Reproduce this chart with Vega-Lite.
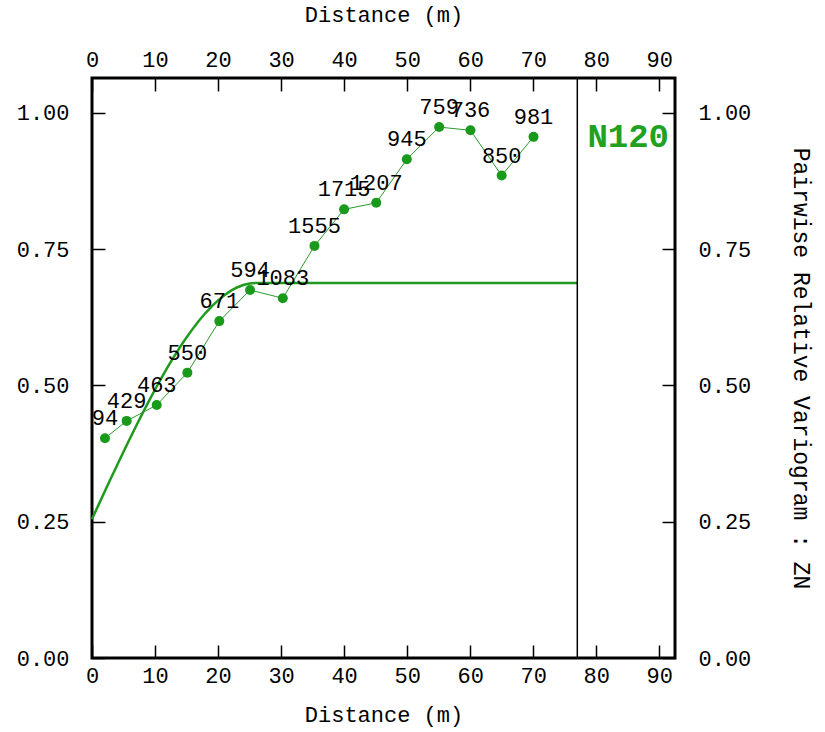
{
  "$schema": "https://vega.github.io/schema/vega-lite/v6.json",
  "autosize": {"type": "none"},
  "width": 583,
  "height": 580,
  "padding": {"top": 78, "left": 92, "right": 150, "bottom": 74},
  "background": "white",
  "config": {
    "view": {"stroke": "black", "strokeWidth": 3},
    "axis": {
      "labelFont": "Liberation Mono", "labelFontSize": 22, "labelColor": "black", "labelFlush": false, "labelOverlap": false,
      "titleFont": "Liberation Mono", "titleFontSize": 22, "titleFontWeight": "normal", "titleColor": "black",
      "domain": false, "grid": false, "tickColor": "black", "tickWidth": 1.5, "tickSize": -13
    }
  },
  "datasets": {
    "model": [
      {"d": 0, "g": 0.255}, {"d": 1, "g": 0.280}, {"d": 2, "g": 0.3049}, {"d": 3, "g": 0.3296},
      {"d": 4, "g": 0.3541}, {"d": 5, "g": 0.3784}, {"d": 6, "g": 0.4022}, {"d": 7, "g": 0.4256},
      {"d": 8, "g": 0.4485}, {"d": 9, "g": 0.4709}, {"d": 10, "g": 0.4925}, {"d": 11, "g": 0.5134},
      {"d": 12, "g": 0.5335}, {"d": 13, "g": 0.5527}, {"d": 14, "g": 0.5709}, {"d": 15, "g": 0.5881},
      {"d": 16, "g": 0.6042}, {"d": 17, "g": 0.6192}, {"d": 18, "g": 0.6328}, {"d": 19, "g": 0.6451},
      {"d": 20, "g": 0.6561}, {"d": 21, "g": 0.6655}, {"d": 22, "g": 0.6734}, {"d": 23, "g": 0.6797},
      {"d": 24, "g": 0.6843}, {"d": 25, "g": 0.6871}, {"d": 26, "g": 0.688}, {"d": 77, "g": 0.688}
    ],
    "exp": [
      {"d": 2.06, "g": 0.403, "n": "94"},
      {"d": 5.5, "g": 0.435, "n": "429"},
      {"d": 10.27, "g": 0.464, "n": "463"},
      {"d": 15.13, "g": 0.5235, "n": "550"},
      {"d": 20.2, "g": 0.618, "n": "671"},
      {"d": 25.08, "g": 0.675, "n": "594"},
      {"d": 30.27, "g": 0.660, "n": "1083"},
      {"d": 35.3, "g": 0.756, "n": "1555"},
      {"d": 40.0, "g": 0.823, "n": "1715"},
      {"d": 45.1, "g": 0.835, "n": "1207"},
      {"d": 49.95, "g": 0.915, "n": "945"},
      {"d": 55.08, "g": 0.974, "n": "759"},
      {"d": 60.05, "g": 0.968, "n": "736"},
      {"d": 65.0, "g": 0.885, "n": "850"},
      {"d": 70.05, "g": 0.956, "n": "981"}
    ],
    "rule": [{"d": 77}],
    "tag": [{"d": 78.6, "g": 0.956, "t": "N120"}]
  },
  "layer": [
    {
      "data": {"name": "exp"},
      "mark": {"type": "line", "color": "#2b9a2b", "strokeWidth": 1},
      "encoding": {
        "x": {"field": "d", "type": "quantitative", "scale": {"domain": [0, 92.5], "nice": false, "zero": false},
              "axis": {"orient": "top", "title": "Distance (m)", "values": [0,10,20,30,40,50,60,70,80,90], "labelPadding": 20, "titlePadding": 22}},
        "y": {"field": "g", "type": "quantitative", "scale": {"domain": [0, 1.064], "nice": false},
              "axis": {"orient": "right", "title": "Pairwise Relative Variogram : ZN", "titleAngle": 90, "titleFontSize": 23, "values": [0, 0.25, 0.5, 0.75, 1], "format": ".2f", "labelPadding": 36, "titlePadding": 38}}
      }
    },
    {
      "data": {"name": "model"},
      "mark": {"type": "line", "color": "#1f9a1f", "strokeWidth": 2.5},
      "encoding": {
        "x": {"field": "d", "type": "quantitative",
              "axis": {"orient": "bottom", "title": "Distance (m)", "values": [0,10,20,30,40,50,60,70,80,90], "labelPadding": 20, "titlePadding": 18}},
        "y": {"field": "g", "type": "quantitative",
              "axis": {"orient": "left", "title": null, "values": [0, 0.25, 0.5, 0.75, 1], "format": ".2f", "labelPadding": 36}}
      }
    },
    {
      "data": {"name": "exp"},
      "mark": {"type": "point", "filled": true, "color": "#1a9a1a", "size": 100, "opacity": 1},
      "encoding": {
        "x": {"field": "d", "type": "quantitative", "axis": null},
        "y": {"field": "g", "type": "quantitative", "axis": null}
      }
    },
    {
      "data": {"name": "exp"},
      "mark": {"type": "text", "font": "Liberation Mono", "fontSize": 22, "color": "black", "align": "center", "baseline": "alphabetic", "dy": -13},
      "encoding": {
        "x": {"field": "d", "type": "quantitative", "axis": null},
        "y": {"field": "g", "type": "quantitative", "axis": null},
        "text": {"field": "n"}
      }
    },
    {
      "data": {"name": "rule"},
      "mark": {"type": "rule", "color": "black", "strokeWidth": 1.5},
      "encoding": {
        "x": {"field": "d", "type": "quantitative", "axis": null}
      }
    },
    {
      "data": {"name": "tag"},
      "mark": {"type": "text", "font": "Liberation Mono", "fontSize": 34, "fontWeight": "bold", "color": "#22a022", "align": "left", "baseline": "middle"},
      "encoding": {
        "x": {"field": "d", "type": "quantitative", "axis": null},
        "y": {"field": "g", "type": "quantitative", "axis": null},
        "text": {"field": "t"}
      }
    }
  ],
  "resolve": {"axis": {"x": "independent", "y": "independent"}}
}
